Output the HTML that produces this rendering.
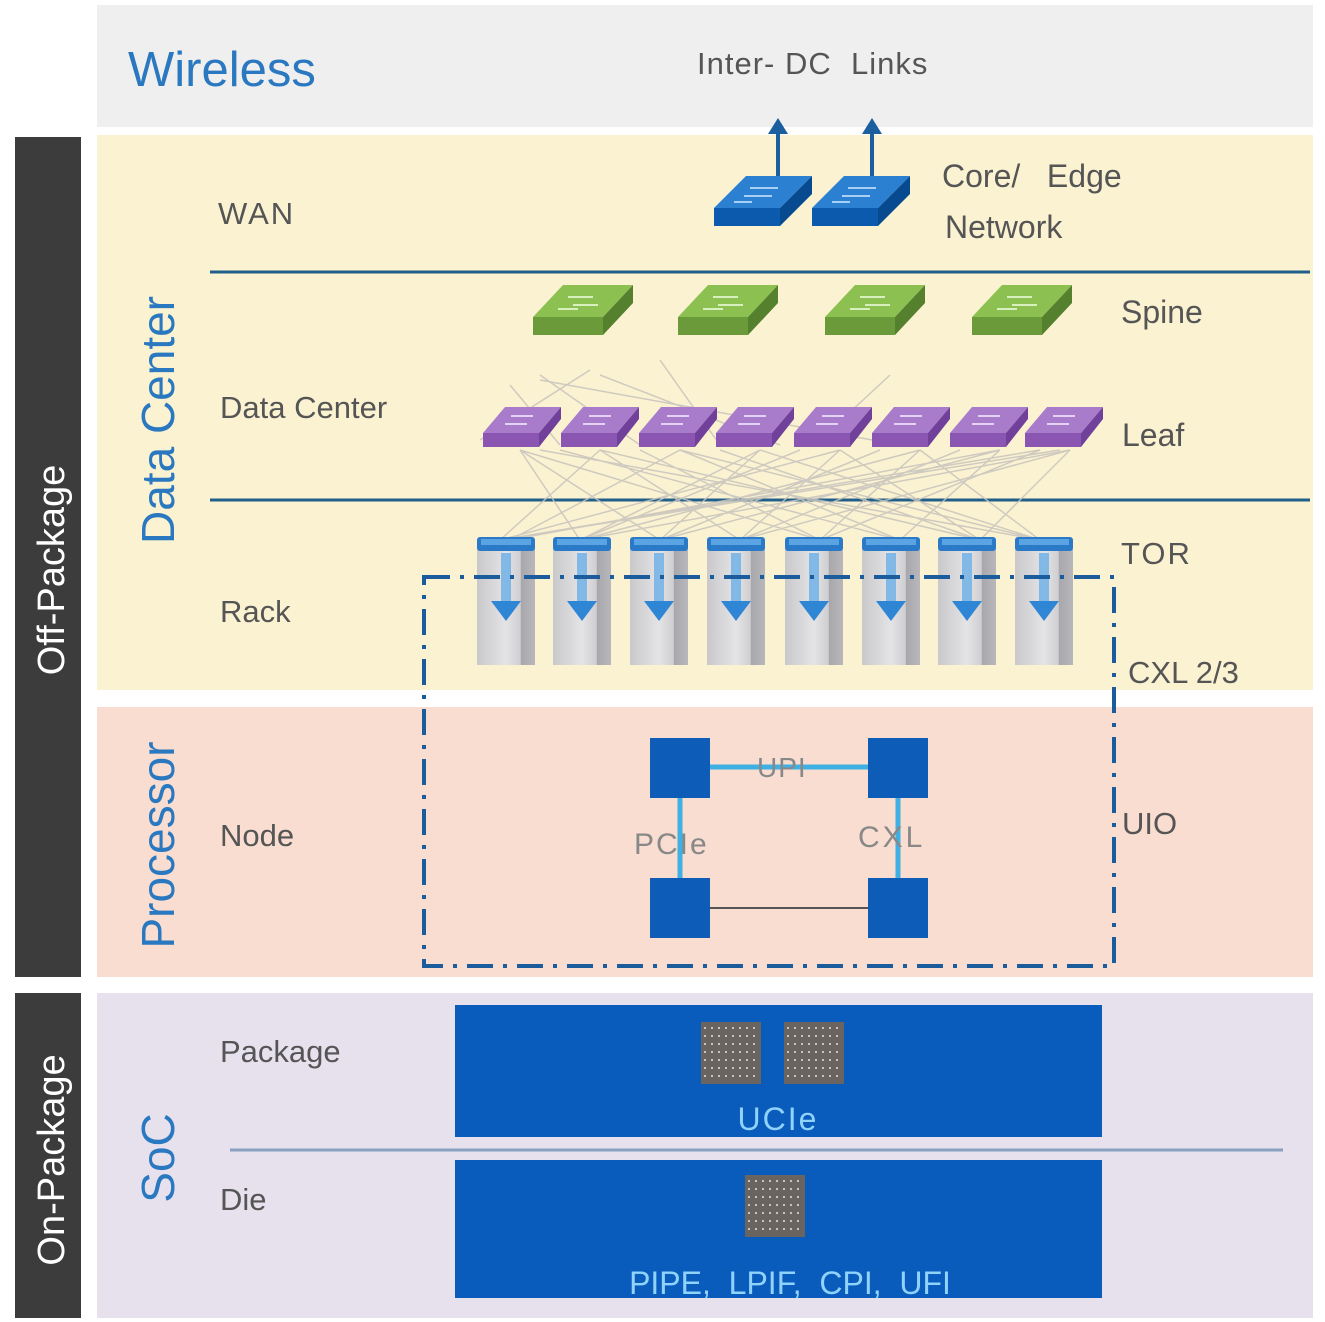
<!DOCTYPE html>
<html><head><meta charset="utf-8"><style>
body{margin:0;background:#fff}
svg{display:block}
text{font-family:"Liberation Sans",sans-serif}
</style></head><body>
<svg width="1325" height="1322" viewBox="0 0 1325 1322" xmlns="http://www.w3.org/2000/svg">
<defs>
<linearGradient id="rack" x1="0" x2="1">
<stop offset="0" stop-color="#c9c9cc"/><stop offset="0.5" stop-color="#e4e4e6"/><stop offset="0.75" stop-color="#cfcfd2"/><stop offset="0.76" stop-color="#a8a8ac"/><stop offset="1" stop-color="#b8b8bc"/>
</linearGradient>
<g id="sp">
<polygon points="30,0 100,0 70,32 0,32" fill="#8cc152"/>
<rect x="0" y="32" width="70" height="18" fill="#6a9a3a"/>
<polygon points="70,32 100,0 100,18 70,50" fill="#55802e"/>
<path d="M35,12h25M40,20h25M25,24h20" stroke="#d8efc0" stroke-width="2"/>
</g>
<g id="lf">
<polygon points="22,0 78,0 56,26 0,26" fill="#a97ccb"/>
<rect x="0" y="26" width="56" height="14" fill="#8a56b2"/>
<polygon points="56,26 78,0 78,12 56,40" fill="#70409a"/>
<path d="M28,9h22M22,17h22" stroke="#e4d2f2" stroke-width="2"/>
</g>
<g id="cr">
<polygon points="32,0 98,0 66,32 0,32" fill="#2b80d2"/>
<rect x="0" y="32" width="66" height="18" fill="#0c5aad"/>
<polygon points="66,32 98,0 98,18 66,50" fill="#084a90"/>
<path d="M36,12h28M30,20h28M20,26h18" stroke="#a8d0f4" stroke-width="2"/>
</g>
<g id="rk">
<rect x="0" y="12" width="58" height="116" fill="url(#rack)"/>
<rect x="0" y="0" width="58" height="14" rx="3" fill="#2a7ac8"/>
<rect x="4" y="2" width="50" height="6" fill="#5aa4e4"/>
<rect x="24" y="16" width="10" height="50" fill="#6aaee6" opacity="0.8"/>
<polygon points="14,64 44,64 29,84" fill="#2f86d4"/>
</g>
</defs>

<rect x="97" y="5" width="1216" height="122" fill="#efefef"/>
<rect x="97" y="135" width="1216" height="555" fill="#fbf2d2"/>
<rect x="97" y="707" width="1216" height="270" fill="#f8ddd0"/>
<rect x="97" y="993" width="1216" height="325" fill="#e7e1ee"/>
<rect x="15" y="137" width="66" height="840" fill="#3c3c3c"/>
<rect x="15" y="993" width="66" height="325" fill="#3c3c3c"/>

<text transform="translate(64,570) rotate(-90)" text-anchor="middle" font-size="38" fill="#fff">Off-Package</text>
<text transform="translate(64,1160) rotate(-90)" text-anchor="middle" font-size="38" fill="#fff">On-Package</text>
<text transform="translate(174,420) rotate(-90)" text-anchor="middle" font-size="46" fill="#2a78c0">Data Center</text>
<text transform="translate(174,845) rotate(-90)" text-anchor="middle" font-size="46" fill="#2a78c0">Processor</text>
<text transform="translate(174,1158) rotate(-90)" text-anchor="middle" font-size="46" fill="#2a78c0">SoC</text>

<text x="128" y="86" font-size="49" fill="#2a78c0">Wireless</text>
<text x="697" y="74" font-size="31" fill="#555" letter-spacing="1">Inter-&#160;DC&#160;&#160;Links</text>
<text x="218" y="224" font-size="31" fill="#555" letter-spacing="2">WAN</text>
<text x="942" y="187" font-size="32" fill="#555">Core/&#160;&#160;&#160;Edge</text>
<text x="945" y="238" font-size="32" fill="#555">Network</text>
<text x="1121" y="323" font-size="32" fill="#555">Spine</text>
<text x="220" y="418" font-size="31" fill="#555">Data Center</text>
<text x="1122" y="446" font-size="32" fill="#555">Leaf</text>
<text x="1121" y="564" font-size="31" fill="#555" letter-spacing="2">TOR</text>
<text x="220" y="622" font-size="31" fill="#555">Rack</text>
<text x="1128" y="683" font-size="31" fill="#555">CXL 2/3</text>
<text x="1122" y="834" font-size="31" fill="#555">UIO</text>
<text x="220" y="846" font-size="31" fill="#555">Node</text>
<text x="220" y="1062" font-size="31" fill="#555">Package</text>
<text x="220" y="1210" font-size="31" fill="#555">Die</text>

<line x1="210" y1="272" x2="1310" y2="272" stroke="#1f5f8a" stroke-width="3"/>
<line x1="210" y1="500" x2="1310" y2="500" stroke="#1f5f8a" stroke-width="3"/>

<g stroke="#c8c4bc" stroke-width="1.5" opacity="0.85">
<path d="M510,385L560,445M540,375L640,445M590,370L480,440M660,360L720,445M600,375L780,445M890,375L820,440M540,380L900,445"/>
<path d="M520,450L580,540M520,450L660,540M520,450L820,540M600,450L500,540M600,450L740,540M600,450L980,540M680,450L510,540M680,450L900,540M680,450L1040,540M760,450L580,540M760,450L660,540M760,450L1040,540M840,450L500,540M840,450L740,540M840,450L980,540M920,450L580,540M920,450L820,540M920,450L1040,540M1000,450L510,540M1000,450L660,540M1000,450L900,540M1070,450L580,540M1070,450L740,540M1070,450L980,540M540,450L1040,540M1060,450L500,540M560,450L900,540M640,450L820,540M720,450L980,540M800,450L580,540M880,450L660,540M960,450L740,540M1040,450L820,540M1040,450L500,540"/>
</g>

<g stroke="#1c5f9e" stroke-width="4" fill="#1c5f9e">
<line x1="778" y1="178" x2="778" y2="130"/><polygon points="768,134 788,134 778,118" stroke="none"/>
<line x1="872" y1="178" x2="872" y2="130"/><polygon points="862,134 882,134 872,118" stroke="none"/>
</g>
<use href="#cr" x="714" y="176"/>
<use href="#cr" x="812" y="176"/>

<use href="#sp" x="533" y="285"/><use href="#sp" x="678" y="285"/><use href="#sp" x="825" y="285"/><use href="#sp" x="972" y="285"/>

<use href="#lf" x="483" y="407"/><use href="#lf" x="561" y="407"/><use href="#lf" x="639" y="407"/><use href="#lf" x="716" y="407"/><use href="#lf" x="794" y="407"/><use href="#lf" x="872" y="407"/><use href="#lf" x="950" y="407"/><use href="#lf" x="1025" y="407"/>

<use href="#rk" x="477" y="537"/><use href="#rk" x="553" y="537"/><use href="#rk" x="630" y="537"/><use href="#rk" x="707" y="537"/><use href="#rk" x="785" y="537"/><use href="#rk" x="862" y="537"/><use href="#rk" x="938" y="537"/><use href="#rk" x="1015" y="537"/>

<rect x="424" y="577" width="690" height="389" fill="none" stroke="#1a5c9c" stroke-width="4" stroke-dasharray="26,10,4,10"/>

<line x1="680" y1="767" x2="898" y2="767" stroke="#3fb0e4" stroke-width="5"/>
<line x1="680" y1="767" x2="680" y2="908" stroke="#3fb0e4" stroke-width="5"/>
<line x1="898" y1="767" x2="898" y2="908" stroke="#3fb0e4" stroke-width="5"/>
<line x1="680" y1="908" x2="898" y2="908" stroke="#555" stroke-width="2"/>
<text x="757" y="777" font-size="28" fill="#888" letter-spacing="1">UPI</text>
<text x="634" y="854" font-size="30" fill="#888" letter-spacing="2">PCIe</text>
<text x="858" y="847" font-size="30" fill="#888" letter-spacing="3">CXL</text>
<rect x="650" y="738" width="60" height="60" fill="#0d5db8"/>
<rect x="868" y="738" width="60" height="60" fill="#0d5db8"/>
<rect x="650" y="878" width="60" height="60" fill="#0d5db8"/>
<rect x="868" y="878" width="60" height="60" fill="#0d5db8"/>

<rect x="455" y="1005" width="647" height="132" fill="#0a5cbc"/>
<rect x="455" y="1160" width="647" height="138" fill="#0a5cbc"/>
<line x1="230" y1="1150" x2="1283" y2="1150" stroke="#8aa0c0" stroke-width="3"/>
<g fill="#6a6460">
<rect x="701" y="1022" width="60" height="62"/>
<rect x="784" y="1022" width="60" height="62"/>
<rect x="745" y="1175" width="60" height="62"/>
</g>
<g stroke="#c8c4c0" stroke-width="2" stroke-dasharray="2,5">
<path d="M704,1028h54M704,1036h54M704,1044h54M704,1052h54M704,1060h54M704,1068h54M704,1076h54"/>
<path d="M787,1028h54M787,1036h54M787,1044h54M787,1052h54M787,1060h54M787,1068h54M787,1076h54"/>
<path d="M748,1181h54M748,1189h54M748,1197h54M748,1205h54M748,1213h54M748,1221h54M748,1229h54"/>
</g>
<text x="778" y="1130" text-anchor="middle" font-size="32" fill="#8fd2fa" letter-spacing="2">UCIe</text>
<text x="790" y="1294" text-anchor="middle" font-size="32" fill="#8fd2fa">PIPE,&#160;&#160;LPIF,&#160;&#160;CPI,&#160;&#160;UFI</text>
</svg>
</body></html>
